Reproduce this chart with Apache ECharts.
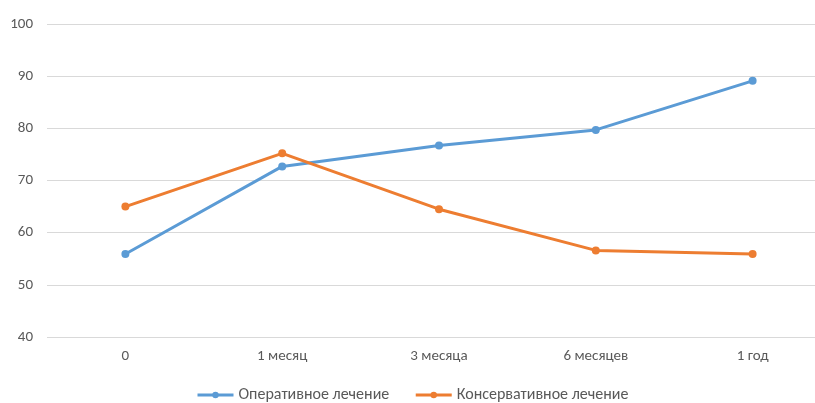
<!DOCTYPE html>
<html>
<head>
<meta charset="utf-8">
<script src="https://cdn.jsdelivr.net/npm/echarts@6/dist/echarts.min.js"></script>
<style>
  html, body { margin: 0; padding: 0; background: #fff; overflow: hidden; }
  #chart { width: 840px; height: 403px; }
</style>
</head>
<body>
<div id="chart"></div>
<script>
// периоды наблюдения
const categories = ['0', '1 месяц', '3 месяца', '6 месяцев', '1 год']
const operative = [55.9, 72.7, 76.7, 79.7, 89.1]
const conservative = [65.0, 75.2, 64.5, 56.6, 55.9]

const chart = echarts.init(document.getElementById('chart'))

const textColor = '#595959'
const font = 'Calibri, Lato, "Liberation Sans", sans-serif'

chart.setOption({
  animation: false,
  textStyle: { fontFamily: font },
  legend: {
    top: 387,
    left: 196,
    padding: 0,
    itemWidth: 36,
    itemHeight: 8,
    itemGap: 25,
    lineStyle: { width: 3 },
    textStyle: { color: textColor, fontSize: 16, fontFamily: font },
    data: ['Оперативное лечение', 'Консервативное лечение']
  },
  grid: {
    left: 47,
    top: 24,
    width: 784,
    height: 313
  },
  xAxis: {
    type: 'category',
    data: categories,
    axisLine: { show: false },
    axisTick: { show: false },
    axisLabel: { color: textColor, fontSize: 15, margin: 12 }
  },
  yAxis: {
    type: 'value',
    min: 40,
    max: 100,
    interval: 10,
    axisLine: { show: false },
    axisTick: { show: false },
    axisLabel: { color: textColor, fontSize: 15, margin: 14 },
    splitLine: { lineStyle: { color: '#d9d9d9', width: 1 } }
  },
  series: [
    {
      name: 'Оперативное лечение',
      type: 'line',
      data: operative,
      symbol: 'circle',
      symbolSize: 8,
      itemStyle: { color: '#5b9bd5' },
      lineStyle: { width: 3, color: '#5b9bd5' }
    },
    {
      name: 'Консервативное лечение',
      type: 'line',
      data: conservative,
      symbol: 'circle',
      symbolSize: 8,
      itemStyle: { color: '#ed7d31' },
      lineStyle: { width: 3, color: '#ed7d31' }
    }
  ]
})
</script>
</body>
</html>
